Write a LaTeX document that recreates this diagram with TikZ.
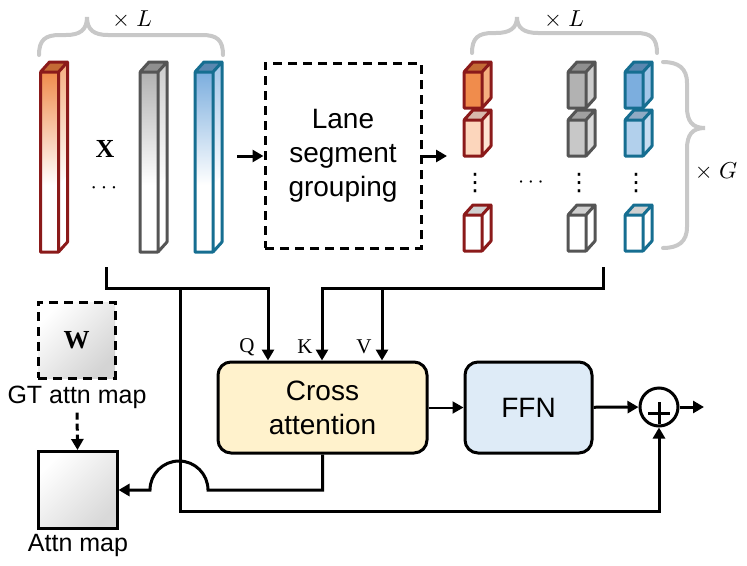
\documentclass[tikz,border=0pt]{standalone}
\usepackage{graphicx}
\usepackage{fontspec}
\setmainfont{Liberation Sans}
\newfontfamily\tnr{Liberation Serif}
\newfontfamily\djv{DejaVu Sans}
\usetikzlibrary{arrows.meta,calc}

\definecolor{redline}{RGB}{139,26,26}
\definecolor{grayline}{RGB}{85,85,85}
\definecolor{blueline}{RGB}{22,110,145}
\definecolor{braceg}{RGB}{200,200,200}
\definecolor{crossfill}{RGB}{255,242,204}
\definecolor{ffnfill}{RGB}{222,235,247}
\definecolor{redA}{RGB}{240,140,76}
\definecolor{redAs}{RGB}{245,175,128}
\definecolor{redAt}{RGB}{196,106,53}
\definecolor{redB}{RGB}{252,214,188}
\definecolor{redBs}{RGB}{253,228,210}
\definecolor{redBt}{RGB}{215,185,172}
\definecolor{grayA}{RGB}{178,178,178}
\definecolor{grayAs}{RGB}{205,205,205}
\definecolor{grayAt}{RGB}{143,143,143}
\definecolor{grayB}{RGB}{200,200,200}
\definecolor{grayBs}{RGB}{218,218,218}
\definecolor{grayBt}{RGB}{160,160,160}
\definecolor{blueA}{RGB}{124,174,222}
\definecolor{blueAs}{RGB}{163,198,232}
\definecolor{blueAt}{RGB}{90,135,176}
\definecolor{blueB}{RGB}{178,208,236}
\definecolor{blueBs}{RGB}{200,221,241}
\definecolor{blueBt}{RGB}{143,170,196}
\definecolor{emptytop}{RGB}{208,208,208}

\newcommand\tallbar[5]{%
  \shade[top color=#3, bottom color=white] (#1,72) rectangle ({#1+18},185);
  \fill[white] (#1,185) rectangle ({#1+18},252);
  \shade[top color=#4, bottom color=white] ({#1+18},72) -- ({#1+27},62) -- ({#1+27},175) -- ({#1+18},185) -- cycle;
  \fill[white] ({#1+18},185) -- ({#1+27},175) -- ({#1+27},242) -- ({#1+18},252) -- cycle;
  \fill[#5] (#1,72) -- ({#1+9},62) -- ({#1+27},62) -- ({#1+18},72) -- cycle;
  \draw[#2, line width=3pt, line join=round] (#1,72) rectangle ({#1+18},252)
    ({#1+18},72) -- ({#1+27},62) -- ({#1+27},242) -- ({#1+18},252)
    (#1,72) -- ({#1+9},62) -- ({#1+27},62);
}
\newcommand\cubebox[6]{%
  \fill[#4] (#1,#2) rectangle ({#1+18},{#2+36});
  \fill[#5] ({#1+18},#2) -- ({#1+27},{#2-10}) -- ({#1+27},{#2+26}) -- ({#1+18},{#2+36}) -- cycle;
  \fill[#6] (#1,#2) -- ({#1+9},{#2-10}) -- ({#1+27},{#2-10}) -- ({#1+18},#2) -- cycle;
  \draw[#3, line width=3pt, line join=round] (#1,#2) rectangle ({#1+18},{#2+36})
    ({#1+18},#2) -- ({#1+27},{#2-10}) -- ({#1+27},{#2+26}) -- ({#1+18},{#2+36})
    (#1,#2) -- ({#1+9},{#2-10}) -- ({#1+27},{#2-10});
}

\tikzset{
  lbl/.style={font=\fontsize{25}{28}\selectfont, inner sep=0pt},
  boxtxt/.style={font=\fontsize{28}{34}\selectfont, align=center},
  plainlbl/.style={inner sep=0pt},
  vdotlbl/.style={font=\djv\fontsize{24}{26}\selectfont, inner sep=0pt},
  qkv/.style={font=\tnr\fontsize{21}{24}\selectfont, inner sep=0pt},
  bigser/.style={font=\tnr\bfseries\fontsize{26}{28}\selectfont, inner sep=0pt},
  mainbox/.style={draw, line width=3pt, rounded corners=13pt, boxtxt},
  conn/.style={line width=3pt, -{Triangle[length=11pt,width=12pt]}},
  dashbox/.style={draw, line width=3pt, dash pattern=on 9pt off 6pt},
  bracegray/.style={draw=braceg, line width=4pt, line cap=round},
}

\begin{document}
\begin{tikzpicture}[x=1pt,y=-1pt]
\useasboundingbox (0,0) rectangle (747,565);

% braces
\draw[bracegray] (39,55) .. controls (39,40) and (45,35) .. (60,35) -- (66,35)
  .. controls (80,35) and (87,30) .. (87,17) .. controls (87,30) and (94,35) .. (108,35)
  -- (202,35) .. controls (217,35) and (223,40) .. (223,55);
\node[plainlbl] (xl1) at (132,20) {\scalebox{2.3}{$\times\ L$}};

\draw[bracegray] (472,53) .. controls (472,38) and (478,33) .. (493,33) -- (496,33)
  .. controls (510,33) and (517,28) .. (517,17) .. controls (517,28) and (524,33) .. (538,33)
  -- (636,33) .. controls (651,33) and (657,38) .. (657,53);
\node[plainlbl] (xl2) at (564,20) {\scalebox{2.3}{$\times\ L$}};

\draw[bracegray] (663,62) .. controls (678,62) and (687,68) .. (687,83) -- (687,107)
  .. controls (687,121) and (692,128) .. (705,128) .. controls (692,128) and (687,135) .. (687,149)
  -- (687,227) .. controls (687,242) and (678,248) .. (663,248);
\node[plainlbl] (xg) at (716,172) {\scalebox{2.3}{$\times\ G$}};

% tall bars
\tallbar{40.5}{redline}{redA}{redAs}{redAt}
\tallbar{140}{grayline}{grayA}{grayAs}{grayAt}
\tallbar{195}{blueline}{blueA}{blueAs}{blueAt}
\node[bigser] (xlab) at (105,149) {X};
\node[plainlbl] (xdots) at (104,188) {\scalebox{2.3}{$\cdots$}};

% grouping
\node[dashbox, boxtxt, minimum width=156pt, minimum height=185pt] (lsg) at (343,155.5) {Lane\\segment\\grouping};
\coordinate (inarr) at (237,156);
\coordinate (outarr) at (447,156);
\draw[conn] (inarr) -- (inarr -| lsg.west);
\draw[conn] (outarr -| lsg.east) -- (outarr);

% cubes
\cubebox{464}{72}{redline}{redA}{redAs}{redAt}
\cubebox{464}{120}{redline}{redB}{redBs}{redBt}
\cubebox{464}{215}{redline}{white}{white}{emptytop}
\cubebox{568}{72}{grayline}{grayA}{grayAs}{grayAt}
\cubebox{568}{120}{grayline}{grayB}{grayBs}{grayBt}
\cubebox{568}{215}{grayline}{white}{white}{emptytop}
\cubebox{625}{72}{blueline}{blueA}{blueAs}{blueAt}
\cubebox{625}{120}{blueline}{blueB}{blueBs}{blueBt}
\cubebox{625}{215}{blueline}{white}{white}{emptytop}
\node[vdotlbl] (vd1) at (475,183) {⋮};
\node[vdotlbl] (vd2) at (579,183) {⋮};
\node[vdotlbl] (vd3) at (636,183) {⋮};
\node[plainlbl] (hd) at (531,183) {\scalebox{2.2}{$\cdots$}};

% main boxes
\node[mainbox, fill=crossfill, minimum width=209pt, minimum height=91pt] (cross) at (322.5,407.5) {Cross\\attention};
\node[mainbox, fill=ffnfill, minimum width=127pt, minimum height=91pt] (ffn) at (528.5,407.5) {FFN};
\node[draw, circle, line width=3pt, minimum size=38pt, inner sep=0pt] (plus) at (659,407) {};
\draw[line width=3pt] (648,413) -- (670,413) (659,402) -- (659,424);

% W and attn map
\node[dashbox, minimum width=77pt, minimum height=76pt, top color=white, bottom color=black!17, shading angle=45, bigser] (wbox) at (76.5,340) {W};
\node[lbl] (gtl) at (77,397) {GT attn map};
\node[draw, line width=3pt, minimum width=79pt, minimum height=77pt, top color=white, bottom color=black!15, shading angle=45] (attn) at (77.5,490) {};
\node[lbl] (attnl) at (78,545) {Attn map};
\draw[conn, dash pattern=on 7pt off 4pt, shorten <=4pt] (gtl.south) -- (attn.north);

% connectors
\coordinate (xo) at (106,267);
\coordinate (qk) at (268,288);
\coordinate (j1) at (180,288);
\coordinate (b1) at (180,511);
\coordinate (go) at (603,267);
\coordinate (kk) at (322,288);
\coordinate (vv) at (382,288);
\coordinate (jr) at (208,490);
\coordinate (out) at (704,407);

\draw[conn] (xo) |- (qk) -- (qk |- cross.north);
\draw[conn] (j1) -- (b1) -| (plus.south);
\draw[conn] (go) |- (kk) -- (kk |- cross.north);
\draw[conn] (vv) -- (vv |- cross.north);

\node[qkv] (ql) at (247,347) {Q};
\node[qkv] (kl) at (305,347) {K};
\node[qkv] (vl) at (364,347) {V};

\draw[conn, line width=2pt] (cross) -- (ffn);
\draw[conn] (ffn) -- (plus);
\draw[conn] (plus) -- (out);
\draw[conn] (cross.south) |- (jr) arc[start angle=0, end angle=180, radius=29pt] -- (attn.east);
\end{tikzpicture}
\end{document}
